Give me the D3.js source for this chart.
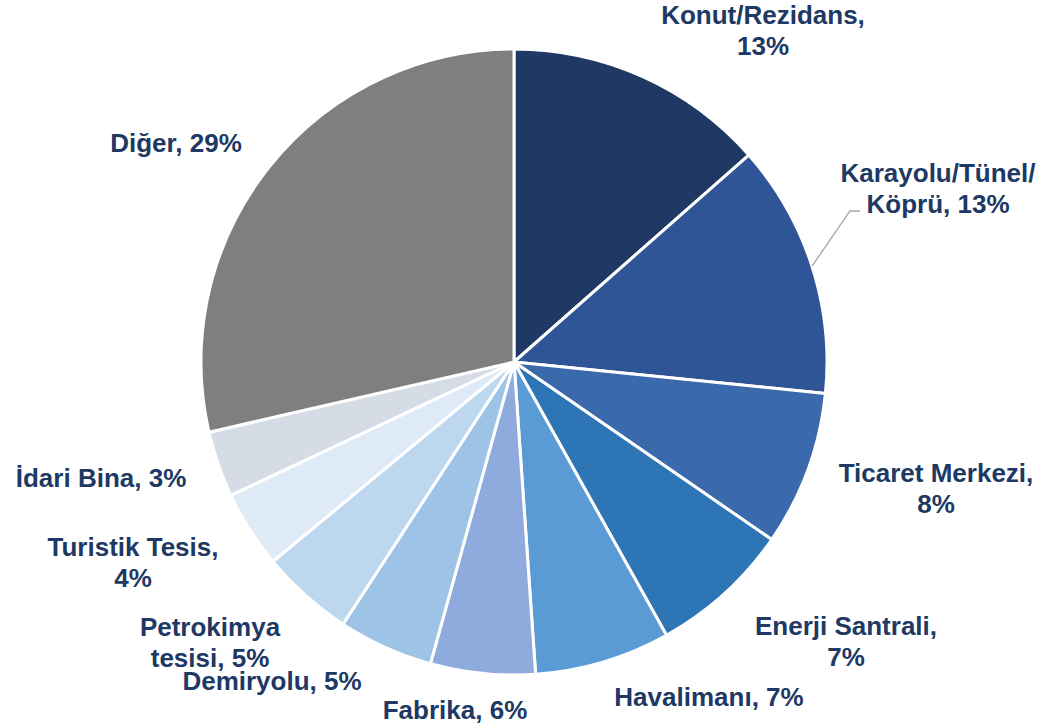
<!DOCTYPE html>
<html lang="en">
<head>
    <meta charset="UTF-8">
    <script src="https://d3js.org/d3.v7.min.js"></script>
    <title>Pie</title>
</head>
<style>
html, body {
    margin: 0;
    padding: 0;
    background: #ffffff;
}

svg {
    display: block;
}

.label {
    font-family: 'Liberation Sans', Arial, sans-serif;
    font-weight: bold;
    font-size: 26px;
    fill: #203864;
}
</style>
<body>
    <svg id='canvas'></svg>
</body>
<script>
// values (labels show rounded %)
let categories = ['Konut/Rezidans', 'Karayolu/Tünel/Köprü', 'Ticaret Merkezi', 'Enerji Santrali',
    'Havalimanı', 'Fabrika', 'Demiryolu', 'Petrokimya tesisi', 'Turistik Tesis', 'İdari Bina', 'Diğer']
let values = [13.5, 13.1, 8.0, 7.3, 7.0, 5.4, 4.9, 4.8, 4.0, 3.4, 28.6]
let percentLabels = ['13%', '13%', '8%', '7%', '7%', '6%', '5%', '5%', '4%', '3%', '29%']
let colors = ['#203864', '#2F5597', '#3A6AAB', '#2E75B6', '#5B9BD5', '#8FAADC',
    '#9DC3E6', '#BDD7EE', '#DEEBF7', '#D6DCE5', '#7F7F7F']

// label lines as they wrap in the picture
let labelLines = [
    ['Konut/Rezidans,', '13%'],
    ['Karayolu/Tünel/', 'Köprü, 13%'],
    ['Ticaret Merkezi,', '8%'],
    ['Enerji Santrali,', '7%'],
    ['Havalimanı, 7%'],
    ['Fabrika, 6%'],
    ['Demiryolu, 5%'],
    ['Petrokimya', 'tesisi, 5%'],
    ['Turistik Tesis,', '4%'],
    ['İdari Bina, 3%'],
    ['Diğer, 29%']
]

let width = 1043
let height = 728
let cx = 514
let cy = 362
let radius = 313
let lineGap = 31

// label anchor: center x and first baseline
let labelAt = [
    [763, 24], [938, 182], [936, 482], [846, 635], [709, 706],
    [455, 719], [272, 690], [210, 636], [133, 556], [101, 487], [176, 152]
]

let svg = d3.select('#canvas')
    .attr('width', width)
    .attr('height', height)

let pie = d3.pie().sort(null).value(d => d)
let arcs = pie(values)

let arc = d3.arc()
    .innerRadius(0)
    .outerRadius(radius)

let g = svg.append('g')
    .attr('transform', 'translate(' + cx + ',' + cy + ')')

g.selectAll('path')
    .data(arcs)
    .enter()
    .append('path')
    .attr('d', arc)
    .attr('fill', (d, i) => colors[i])
    .attr('stroke', '#ffffff')
    .attr('stroke-width', 3)
    .attr('stroke-linejoin', 'round')

// leader line for Karayolu label
let k = arcs[1]
let mid = (k.startAngle + k.endAngle) / 2
let edge = [cx + Math.sin(mid) * radius, cy - Math.cos(mid) * radius]
svg.append('polyline')
    .attr('points', [edge, [850, 211], [860, 211]].map(p => p.join(',')).join(' '))
    .attr('fill', 'none')
    .attr('stroke', '#A6A6A6')
    .attr('stroke-width', 1.3)

labelLines.forEach((lines, i) => {
    let t = svg.append('text')
        .attr('class', 'label')
        .attr('text-anchor', 'middle')
        .attr('x', labelAt[i][0])
        .attr('y', labelAt[i][1])
    lines.forEach((line, j) => {
        t.append('tspan')
            .attr('x', labelAt[i][0])
            .attr('dy', j === 0 ? 0 : lineGap)
            .text(line)
    })
})
</script>
</html>
